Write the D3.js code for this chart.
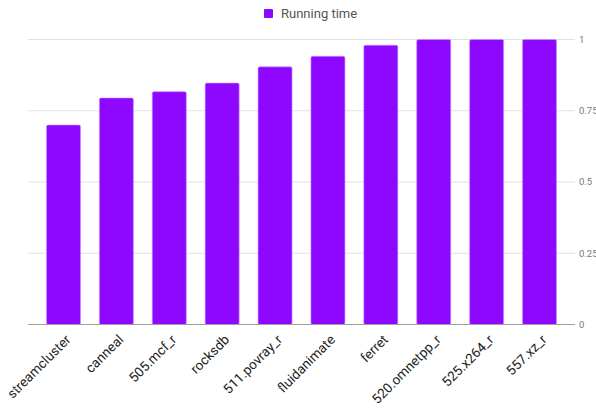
<!DOCTYPE html>
<html>
<head>
<meta charset="utf-8">
<script src="https://cdn.jsdelivr.net/npm/d3@7"></script>
<style>
  body { margin: 0; background: #fff; }
  svg { display: block; font-family: Roboto, "Liberation Sans", sans-serif; }
</style>
</head>
<body>
<svg class="chart" width="596" height="408"></svg>
<script>
var categories = ["streamcluster", "canneal", "505.mcf_r", "rocksdb", "511.povray_r",
                  "fluidanimate", "ferret", "520.omnetpp_r", "525.x264_r", "557.xz_r"];
var runningTime = [0.70, 0.795, 0.817, 0.847, 0.904, 0.941, 0.98, 1, 1, 1];
var yTicks = [0, 0.25, 0.5, 0.75, 1];
var seriesName = "Running time";

var color = "#8e08ff";
var plotLeft = 28, plotRight = 575, plotTop = 39.5, plotBottom = 324.5;

var svg = d3.select(".chart");

var x = d3.scaleBand()
    .domain(categories)
    .range([plotLeft, plotRight])
    .paddingInner(0.357)
    .paddingOuter(0.35);

var y = d3.scaleLinear()
    .domain([0, 1])
    .range([plotBottom, plotTop]);

// gridlines
svg.append("g").selectAll("line")
  .data(yTicks.filter(function(d) { return d > 0; }))
  .enter().append("line")
    .attr("x1", plotLeft).attr("x2", plotRight)
    .attr("y1", function(d) { return y(d); })
    .attr("y2", function(d) { return y(d); })
    .attr("stroke", "#e2e2e2").attr("stroke-width", 1);

// bars
svg.append("g").selectAll("rect")
  .data(runningTime)
  .enter().append("rect")
    .attr("x", function(d, i) { return x(categories[i]); })
    .attr("y", function(d) { return y(d); })
    .attr("width", x.bandwidth())
    .attr("height", function(d) { return plotBottom - y(d); })
    .attr("rx", 1.5)
    .attr("fill", color)
    .attr("stroke", "#c690ff").attr("stroke-width", 0.6);

// baseline
svg.append("line")
    .attr("x1", plotLeft).attr("x2", plotRight)
    .attr("y1", y(0)).attr("y2", y(0))
    .attr("stroke", "#9e9e9e").attr("stroke-width", 1);

// right tick labels
svg.append("g").selectAll("text")
  .data(yTicks)
  .enter().append("text")
    .attr("x", 579)
    .attr("y", function(d) { return y(d); })
    .attr("dy", "0.35em")
    .attr("font-size", 9.5)
    .attr("fill", "#777")
    .text(function(d) { return d; });

// category labels
svg.append("g").selectAll("text")
  .data(categories)
  .enter().append("text")
    .attr("transform", function(d) {
      return "translate(" + (x(d) + x.bandwidth() / 2 + 8) + "," + (plotBottom + 16) + ") rotate(-45)";
    })
    .attr("text-anchor", "end")
    .attr("font-size", 13.5)
    .attr("fill", "#222")
    .text(function(d) { return d; });

// legend
var legend = svg.append("g").attr("transform", "translate(264,9)");
legend.append("rect")
    .attr("width", 9).attr("height", 9)
    .attr("rx", 1)
    .attr("fill", color);
legend.append("text")
    .attr("x", 17).attr("y", 9)
    .attr("font-size", 13)
    .attr("fill", "#555")
    .text(seriesName);
</script>
</body>
</html>
